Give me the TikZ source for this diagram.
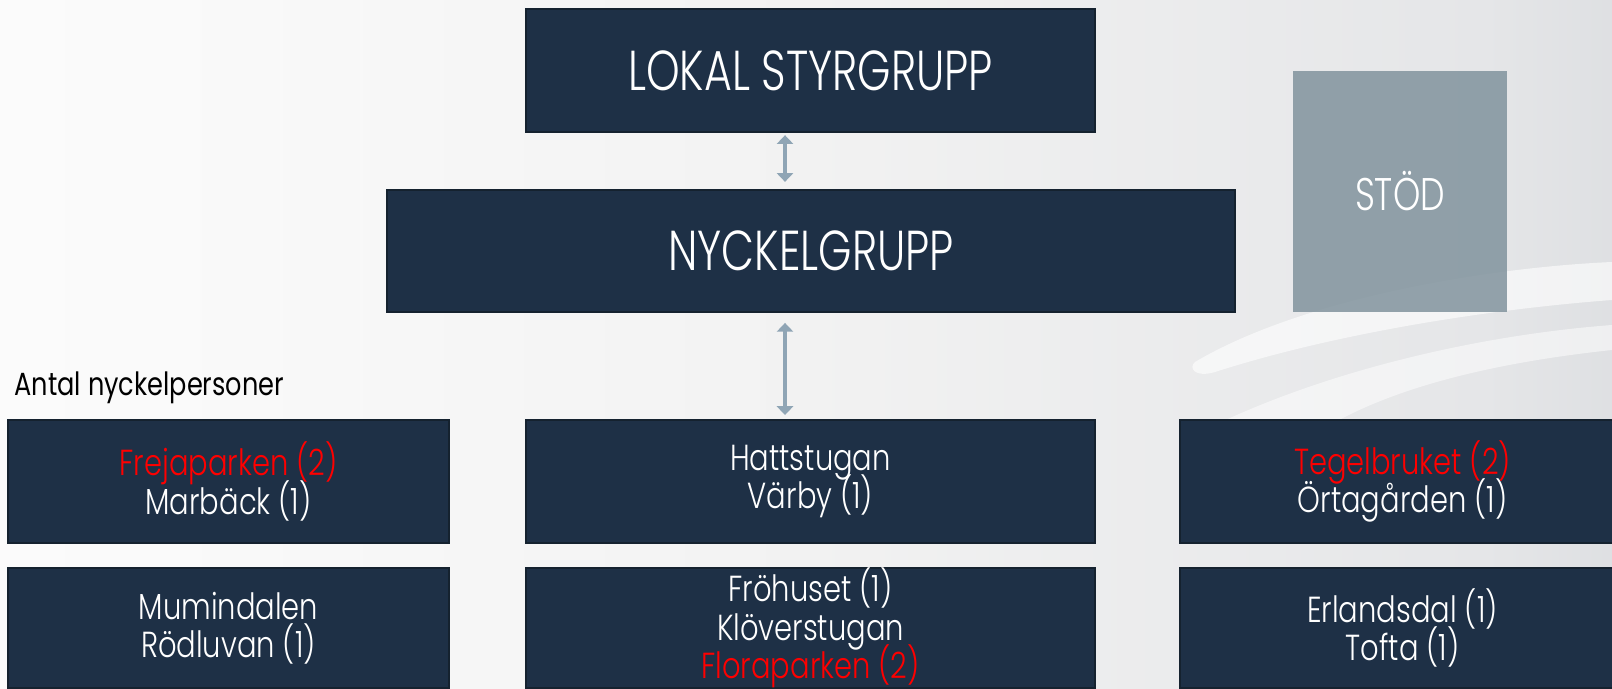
\documentclass[tikz,border=0pt]{standalone}
\usepackage{fontspec}
\setmainfont{Poppins}[UprightFont=* Light, FakeStretch=0.76]
\newfontfamily\rutafont{Poppins}[UprightFont=* Light, FakeStretch=0.8]
\newfontfamily\antalfont{Poppins}[FakeStretch=0.8]
\usetikzlibrary{arrows.meta}

\definecolor{navy}{HTML}{1E3046}
\definecolor{navyedge}{HTML}{15222F}
\definecolor{stodgray}{HTML}{81939D}
\definecolor{pilgray}{HTML}{8FA5B5}
\definecolor{bgA}{HTML}{FAFAFA}
\definecolor{bgB}{HTML}{F2F2F2}
\definecolor{bgC}{HTML}{E5E6E8}
\definecolor{bgD}{HTML}{CED1D5}
\definecolor{bgright}{HTML}{ADB3BA}
\definecolor{rodtext}{HTML}{FF0000}

\newcommand\rutastil{\rutafont\fontsize{10.3}{10.9}\selectfont\lineskiplimit=-8pt\relax}

\pgfdeclarehorizontalshading{bakgrund}{100bp}{color(0bp)=(white); color(30bp)=(bgA); color(50bp)=(bgB); color(71bp)=(bgC); color(85bp)=(bgD); color(100bp)=(bgright)}

\tikzset{
  grupp/.style={draw=navyedge, line width=0.6pt, fill=navy, text=white, inner sep=0pt,
    font=\fontsize{16}{19}\selectfont},
  ruta/.style={draw=navyedge, line width=0.6pt, fill=navy, text=white, align=center, inner sep=0pt,
    font=\rutastil},
  pil/.style={pilgray, line width=1.2pt, {Triangle[width=4.6pt,length=2.5pt]}-{Triangle[width=4.6pt,length=2.5pt]}}
}

\begin{document}
\begin{tikzpicture}[x=0.01cm, y=-0.01cm]

\useasboundingbox (0,0) rectangle (1612,689);
\begin{scope}
\clip (0,0) rectangle (1612,689);
\shade[shading=bakgrund] (0,0) rectangle (1612,689);

% swoosh in the background
\fill[white, opacity=0.6] (1195,362) .. controls (1300,300) and (1480,268) .. (1612,262)
  -- (1612,300) .. controls (1480,310) and (1330,335) .. (1215,372)
  .. controls (1195,378) and (1188,368) .. (1195,362);
\fill[white, opacity=0.5] (1215,425) .. controls (1330,370) and (1480,335) .. (1612,325)
  -- (1612,350) .. controls (1500,362) and (1400,385) .. (1330,425) -- cycle;

% top
\node[grupp, minimum width=5.69cm, minimum height=1.23cm] (lokal) at (810.5,70.5) {LOKAL STYRGRUPP};
\node[grupp, minimum width=8.48cm, minimum height=1.22cm] (nyckel) at (811,251) {NYCKELGRUPP};
\node[fill=stodgray, fill opacity=0.85, text opacity=1, text=white, minimum width=2.14cm, minimum height=2.41cm,
  font=\fontsize{13}{15}\selectfont] (stod) at (1400,191.5) {STÖD};

\node[anchor=base west, inner sep=0pt, font=\antalfont\fontsize{9.1}{11}\selectfont] (antal) at (14,396) {Antal nyckelpersoner};

% first row
\node[ruta, minimum width=4.41cm, minimum height=1.23cm] (frejaparken) at (228.5,481.5)
  {\textcolor{rodtext}{Frejaparken (2)}\\Marbäck (1)};
\node[ruta, minimum width=5.69cm, minimum height=1.23cm] (hattstugan) at (810.5,481.5)
  {Hattstugan\\Värby (1)};
\node[ruta, minimum width=4.45cm, minimum height=1.23cm] (tegelbruket) at (1402.5,481.5)
  {\textcolor{rodtext}{Tegelbruket (2)}\\Örtagården (1)};

% second row
\node[ruta, minimum width=4.41cm, minimum height=1.2cm] (mumindalen) at (228.5,628)
  {Mumindalen\\Rödluvan (1)};
\node[ruta, minimum width=5.69cm, minimum height=1.2cm] (frohuset) at (810.5,628)
  {Fröhuset (1)\\Klöverstugan\\\textcolor{rodtext}{Floraparken (2)}};
\node[ruta, minimum width=4.45cm, minimum height=1.2cm] (erlandsdal) at (1402.5,628)
  {Erlandsdal (1)\\Tofta (1)};

\draw[pil, shorten <=0.6pt, shorten >=2pt] (lokal.south -| 785,0) -- (nyckel.north -| 785,0);
\draw[pil, shorten <=2.8pt, shorten >=1.1pt] (nyckel.south -| 785,0) -- (hattstugan.north -| 785,0);
\end{scope}
\end{tikzpicture}
\end{document}
